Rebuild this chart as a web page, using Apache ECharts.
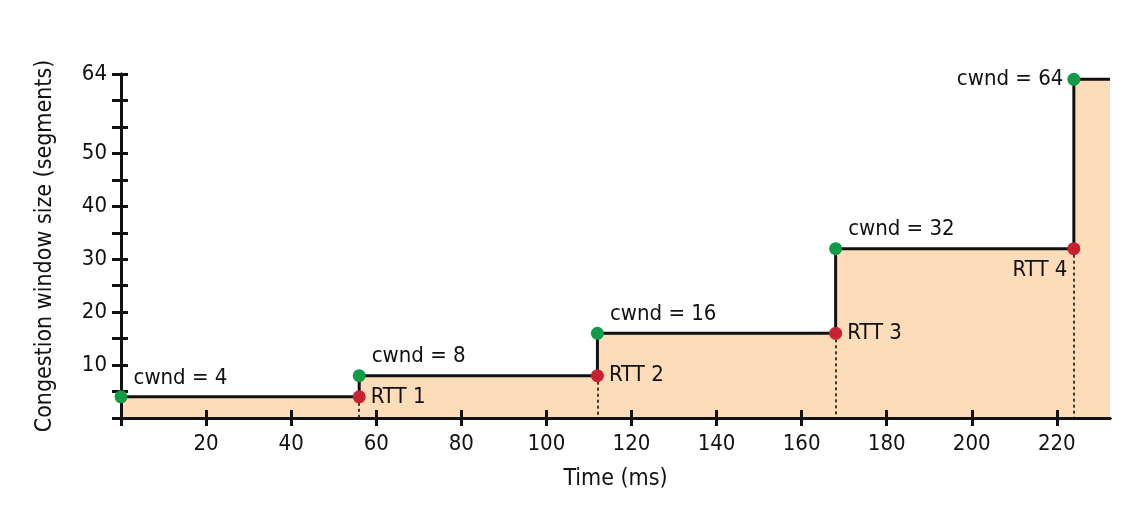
<!DOCTYPE html>
<html><head><meta charset="utf-8">
<script src="https://cdn.jsdelivr.net/npm/echarts@6/dist/echarts.min.js"></script>
<style>html,body{margin:0;padding:0;background:#fff}#c{width:1144px;height:506px}</style>
</head><body><div id="c"></div>
<script>
// ---- data ----
const rttTimes = [0, 56, 112, 168, 224];
const cwndValues = [4, 8, 16, 32, 64];
const timeEnd = 232.5;
const cwndLabels = ['cwnd = 4', 'cwnd = 8', 'cwnd = 16', 'cwnd = 32', 'cwnd = 64'];
const rttLabels = ['RTT 1', 'RTT 2', 'RTT 3', 'RTT 4'];
const xTickValues = [20, 40, 60, 80, 100, 120, 140, 160, 180, 200, 220];
const xTickLabels = ['20', '40', '60', '80', '100', '120', '140', '160', '180', '200', '220'];
const xTickMarks = [0, 20, 40, 60, 80, 100, 120, 140, 160, 180, 200, 220];
const yTickValues = [10, 20, 30, 40, 50, 65];
const yTickLabels = ['10', '20', '30', '40', '50', '64'];
const yTickMarks = [0, 5, 10, 15, 20, 25, 30, 35, 40, 45, 50, 55, 60, 65];

// ---- build ----
const FONT = "'Liberation Sans Narrow','DejaVu Sans Condensed','Roboto',sans-serif";
const TXT = { color: '#111', fontFamily: FONT, fontSize: 22 };
const stepData = rttTimes.map((t, i) => [t, cwndValues[i]]).concat([[timeEnd, cwndValues[cwndValues.length - 1]]]);
const greenPts = rttTimes.map((t, i) => {
  const last = i === rttTimes.length - 1;
  return {
    value: [t, cwndValues[i]],
    label: Object.assign({ show: true, formatter: cwndLabels[i] }, TXT, last
      ? { position: 'left', distance: 4, offset: [0, 0] }
      : { position: 'right', distance: 6, offset: [0, -19] })
  };
});
const redPts = rttLabels.map((lab, i) => {
  const last = i === rttLabels.length - 1;
  return {
    value: [rttTimes[i + 1], cwndValues[i]],
    label: Object.assign({ show: true, formatter: lab }, TXT, last
      ? { position: 'left', distance: 0, offset: [0, 22] }
      : { position: 'right', distance: 5, offset: [0, 0] })
  };
});
const dropLines = rttLabels.map((lab, i) => [
  { coord: [rttTimes[i + 1], cwndValues[i]] },
  { coord: [rttTimes[i + 1], 0] }
]);

const xBase = { type: 'value', min: 0, max: timeEnd, interval: 20, splitLine: { show: false }, position: 'bottom', z: 6 };
const yBase = { type: 'value', min: 0, max: 65, interval: 5, splitLine: { show: false }, position: 'left', z: 6 };
const tickStyle = { color: '#111', width: 3 };

const chart = echarts.init(document.getElementById('c'), null, { renderer: 'canvas' });
chart.setOption({
  animation: false,
  backgroundColor: '#fff',
  grid: { left: 121, right: 34, top: 74, bottom: 88, containLabel: false },
  xAxis: [
    Object.assign({}, xBase, {
      name: 'Time (ms)', nameLocation: 'middle', nameGap: 50,
      nameTextStyle: { color: '#111', fontFamily: FONT, fontSize: 23 },
      axisLine: { show: true, onZero: false, lineStyle: { color: '#111', width: 3 } },
      axisTick: { show: true, length: 8, lineStyle: tickStyle, customValues: xTickMarks },
      axisLabel: Object.assign({ margin: 15, customValues: xTickValues, formatter: v => {
        const k = xTickValues.indexOf(v); return k >= 0 ? xTickLabels[k] : '';
      } }, TXT)
    }),
    Object.assign({}, xBase, {
      axisLine: { show: true, onZero: false, lineStyle: { color: '#111', width: 3 } },
      axisTick: { show: true, inside: true, length: 8, lineStyle: tickStyle, customValues: xTickMarks },
      axisLabel: { show: false }
    })
  ],
  yAxis: [
    Object.assign({}, yBase, {
      name: 'Congestion window size (segments)', nameLocation: 'middle', nameGap: 64,
      nameTextStyle: { color: '#111', fontFamily: FONT, fontSize: 23 },
      axisLine: { show: true, onZero: false, lineStyle: { color: '#111', width: 3 } },
      axisTick: { show: true, length: 9, lineStyle: tickStyle, customValues: yTickMarks },
      axisLabel: Object.assign({ margin: 14, customValues: yTickValues, formatter: v => {
        const k = yTickValues.indexOf(v); return k >= 0 ? yTickLabels[k] : '';
      } }, TXT)
    }),
    Object.assign({}, yBase, {
      axisLine: { show: true, onZero: false, lineStyle: { color: '#111', width: 3 } },
      axisTick: { show: true, inside: true, length: 7, lineStyle: tickStyle, customValues: yTickMarks },
      axisLabel: { show: false }
    })
  ],
  series: [
    {
      type: 'line', step: 'end', data: stepData, symbol: 'none', z: 2,
      xAxisIndex: 0, yAxisIndex: 0,
      lineStyle: { color: '#111', width: 3 },
      areaStyle: { color: '#fcdcb9', opacity: 1 }
    },
    {
      type: 'scatter', data: redPts, symbolSize: 13, z: 8,
      xAxisIndex: 1, yAxisIndex: 1,
      itemStyle: { color: '#c8212f', opacity: 1 },
      markLine: {
        silent: true, symbol: ['none', 'none'], z: 3,
        label: { show: false },
        lineStyle: { color: '#111', width: 1.6, type: [3, 3] },
        data: dropLines
      }
    },
    {
      type: 'scatter', data: greenPts, symbolSize: 13, z: 9,
      xAxisIndex: 0, yAxisIndex: 0,
      itemStyle: { color: '#119a48', opacity: 1 }
    }
  ]
});
</script>
</body></html>
